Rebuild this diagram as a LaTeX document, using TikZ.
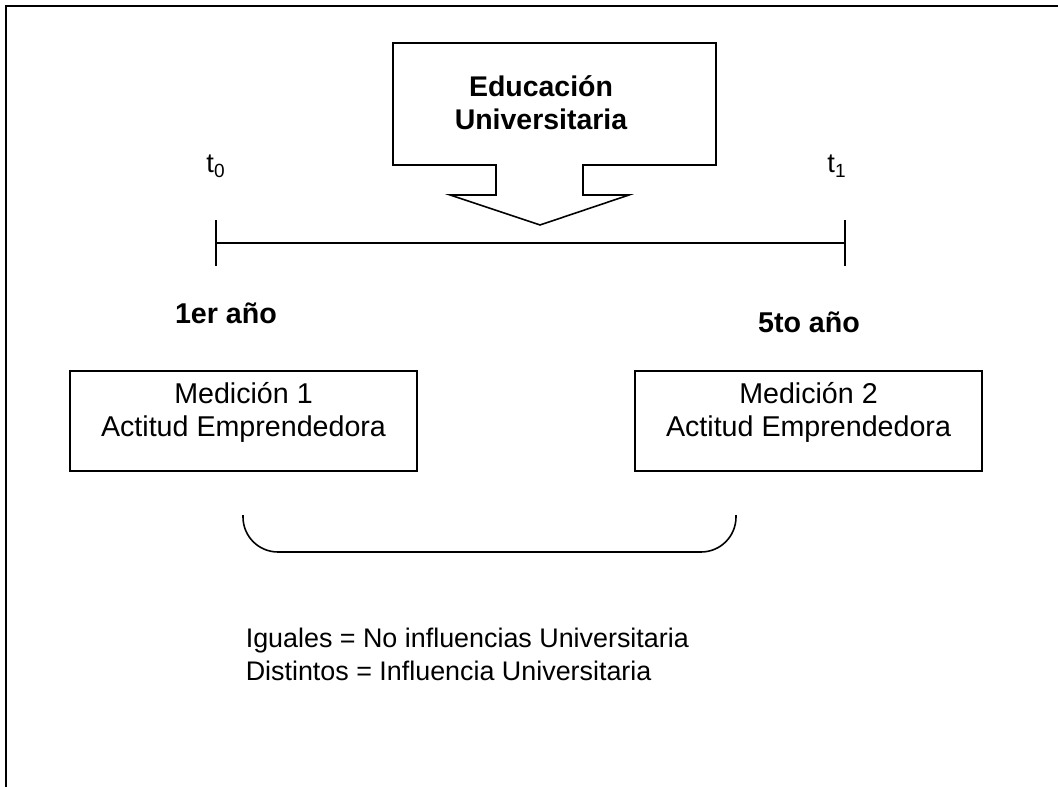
\documentclass[tikz,border=0pt]{standalone}
\usepackage{fontspec}
\setmainfont{Liberation Sans}
\usetikzlibrary{positioning}

\begin{document}
\begin{tikzpicture}[
x = 0.02cm, y = -0.02cm,
line width = 0.9pt,
every node/.style = {
	font = \fontsize{16.3}{18.8}\selectfont,
	align = center,
	inner sep = 0pt
},
title/.style = {
	font = \fontsize{16.2}{18.8}\selectfont\bfseries
},
year/.style = {
	font = \fontsize{16.3}{18.8}\selectfont\bfseries
},
tick/.style = {
	font = \fontsize{15.5}{18}\selectfont
},
measure/.style = {
	draw,
	minimum width = 6.94cm,
	minimum height = 2cm
}
]
\useasboundingbox (0,0) rectangle (1058,787);

% frame
\draw[line width=1.3pt] (6,787) -- (6,6) -- (1058,6);

% callout
\node (edu) [title] at (541,103) {Educación\\Universitaria};
\draw (393,43) -- (716,43) -- (716,165) -- (583,165) -- (583,195) -- (629,195)
	-- (540,225) -- (450,195) -- (496,195) -- (496,165) -- (393,165) -- cycle;

% time line
\coordinate (start) at (216,243);
\coordinate (end) at (845,243);
\draw (start) -- (end);
\draw ([yshift=0.46cm]start) -- ([yshift=-0.46cm]start);
\draw ([yshift=0.46cm]end) -- ([yshift=-0.46cm]end);
\node (t0) [tick, above = 1.3cm of start] {t\textsubscript{0}};
\node (t1) [tick, above = 1.3cm of end, xshift=-0.16cm] {t\textsubscript{1}};

\node (first) [year] at (226,313) {1er año};
\node (fifth) [year] at (809,322) {5to año};

% measurements
\node (m1) [measure] at (243.5,421) {};
\node (m1text) at (243.5,412) {Medición 1\\Actitud Emprendedora};
\node (m2) [measure] at (808.5,421) {};
\node (m2text) at (808.5,412) {Medición 2\\Actitud Emprendedora};

% comparison
\draw[rounded corners=0.7cm] (243,515) -- (243,552) -- (736,552) -- (736,515);

\node (result) [anchor=west, align=left, font=\fontsize{15.3}{18.8}\selectfont] at (245,654)
	{Iguales = No influencias Universitaria\\Distintos = Influencia Universitaria};

\end{tikzpicture}
\end{document}
